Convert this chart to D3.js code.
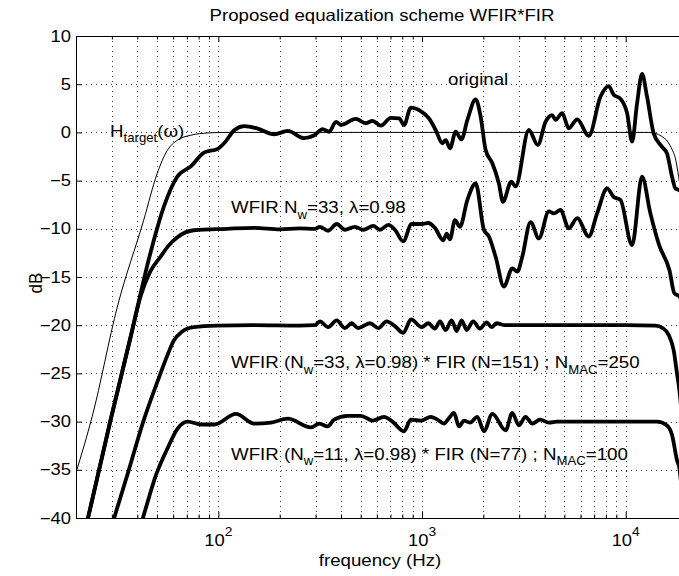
<!DOCTYPE html>
<html><head><meta charset="utf-8">
<script src="https://cdn.jsdelivr.net/npm/d3@7"></script>
<style>
body{margin:0;background:#fff}
text{font-family:"Liberation Sans",Arial,Helvetica,sans-serif;fill:#000}
</style>
</head><body>
<svg id="chart" width="679" height="576"></svg>
<script>
// ---------- data (frequency in Hz, level in dB) ----------
const yTicks = [-40,-35,-30,-25,-20,-15,-10,-5,0,5,10];
const xMajor = [100,1000,10000];
const xMajorLabels = ["2","3","4"];
const xMinor = [20,30,40,50,60,70,80,90,200,300,400,500,600,700,800,900,2000,3000,4000,5000,6000,7000,8000,9000,20000];

const targetCurve = [[20,-35.3],[24,-29.5],[32,-18],[43,-9.1],[50,-4.3],[56,-1.9],[63,-0.8],[73,-0.3],[90,-0.05],[110,0],[13000,0],[14000,-0.1],[15000,-0.4],[16000,-0.9],[17000,-1.9],[17500,-2.6],[18200,-4.6],[19000,-7.5],[20000,-11]];

const originalCurve = [[21.5,-42.5],[23.2,-39.5],[29.6,-29.8],[37.1,-21.2],[46.4,-12.5],[54,-7.7],[62.8,-4.6],[73.5,-3.5],[85,-2.1],[99.3,-1.7],[107,-1.1],[120,0.25],[134,0.66],[156,0.4],[188,-0.2],[219,0.15],[264,-0.6],[296,-0.3],[325,0.35],[350,0.07],[378,1.1],[400,0.77],[473,1.4],[530,0.95],[571,1.2],[628,0.7],[703,1.5],[772,1.45],[816,0.77],[881,2.56],[985,2.2],[1082,1.46],[1167,0.25],[1259,-1.13],[1307,-0.8],[1372,-1.65],[1463,0.07],[1561,-0.72],[1670,1.29],[1834,3.43],[1940,1.63],[2053,-1.83],[2214,-3.2],[2385,-5.3],[2495,-7.2],[2743,-5.1],[2880,-5.6],[3345,0.25],[3703,-1.3],[4041,1.1],[4358,1.8],[4523,1.3],[4877,2.0],[5255,0.43],[5780,1.36],[6587,-0.37],[7516,3.7],[8254,4.8],[8734,3.9],[9419,3.5],[10160,2.0],[10750,-0.96],[11370,3.0],[12030,6.06],[12730,3.7],[13720,-0.1],[15080,-1.5],[15960,-2.2],[16890,-4.6],[17530,-5.8],[18340,-6.0],[20000,-7.0]];

const wfir33Curve = [[21.5,-42.5],[23.2,-39.5],[29.6,-29.8],[37.1,-21.2],[41.5,-17],[46.4,-14.4],[52,-12.9],[56.7,-11.8],[62.7,-10.9],[75.8,-10.15],[110,-10],[150,-9.9],[200,-10.05],[250,-9.95],[298,-10.0],[315,-9.8],[346,-10.2],[381,-9.5],[418,-10.1],[468,-9.8],[515,-10.1],[576,-9.7],[621,-10.1],[683,-9.6],[736,-10.1],[809,-11.3],[889,-9.5],[996,-9.5],[1073,-9.4],[1157,-9.9],[1271,-11.2],[1321,-10.5],[1371,-11.1],[1451,-9.1],[1535,-9.8],[1670,-7.0],[1834,-5.3],[2013,-10.1],[2130,-10.8],[2298,-12.9],[2523,-16.0],[2775,-14.1],[2936,-14.45],[3106,-12.9],[3411,-9.3],[3746,-11.0],[4194,-8.2],[4437,-8.4],[4786,-8.05],[5255,-9.95],[5780,-8.9],[6587,-10.8],[7241,-8.4],[8108,-5.8],[8734,-6.7],[9419,-7.0],[10750,-11.7],[12030,-4.6],[13220,-8.4],[14600,-11.7],[16400,-14.3],[17350,-16.7],[18340,-17],[20000,-20]];

const fir151Curve = [[29,-41.8],[31.3,-39.5],[36,-35.3],[43.1,-29.8],[52,-25],[56.5,-23],[60.4,-21.6],[66,-20.7],[75.8,-20.2],[98.6,-20.05],[150,-20],[250,-20.05],[298,-20.0],[315,-19.6],[346,-20.2],[381,-19.5],[418,-20.3],[451,-19.8],[486,-20.3],[555,-19.8],[610,-20.3],[670,-19.6],[736,-20.1],[809,-20.8],[883,-19.4],[996,-20.2],[1073,-19.8],[1157,-20.35],[1225,-19.6],[1306,-20.5],[1398,-19.5],[1479,-20.6],[1565,-19.5],[1656,-20.5],[1784,-19.6],[1925,-20.35],[2076,-19.7],[2196,-20.2],[2324,-19.8],[2554,-20],[5000,-20],[10000,-20],[14000,-20.05],[15200,-20.3],[16250,-21.0],[17200,-22.6],[17860,-25.0],[18340,-26.7],[19000,-30],[20000,-36]];

const fir77Curve = [[40,-41.9],[42.6,-40],[49.5,-35.5],[56.5,-32.7],[63.2,-30.7],[70.8,-30],[82.3,-30.3],[95.6,-30.3],[122,-29.2],[150,-30.2],[181,-30.1],[219,-29.7],[285,-30.6],[313,-30.2],[344,-30.5],[370,-29.8],[431,-29.4],[501,-29.4],[571,-29.9],[651,-29.5],[716,-30],[816,-31],[881,-29.8],[990,-29.9],[1103,-29.5],[1190,-29.8],[1282,-30.2],[1350,-29.7],[1435,-29.1],[1519,-30.5],[1607,-29.9],[1720,-30.1],[1869,-29.5],[2013,-31.0],[2214,-29.2],[2573,-30.9],[2775,-29.1],[2989,-30.4],[3223,-29.5],[3476,-30.2],[3800,-29.8],[4200,-30.1],[4600,-30],[14250,-30],[15960,-30.4],[16890,-31.4],[17860,-34],[18340,-34.8],[19000,-38],[20000,-45]];

// ---------- layout ----------
const W = 679, H = 576;
const L = 76, R = 687, T = 36, B = 518;
const FS = 17, SUBFS = 12, SX = 1.1;       // annotation / title text
const TFS = 16, TSX = 1.15;                // tick labels

const svg = d3.select("#chart");
svg.append("rect").attr("width", W).attr("height", H).attr("fill", "#fff");

const x = d3.scaleLog().domain([20, 20000]).range([L, R]);
const y = d3.scaleLinear().domain([-40, 10]).range([B, T]);

svg.append("defs").append("clipPath").attr("id", "plotclip")
  .append("rect").attr("x", L).attr("y", T).attr("width", R - L).attr("height", B - T);

// grid
const grid = svg.append("g").attr("stroke", "#3a3a3a").attr("stroke-width", 1).attr("stroke-dasharray", "1,4");
grid.selectAll("line.v").data(xMinor.concat(xMajor)).join("line").attr("class","v")
  .attr("x1", d => Math.round(x(d)) + 0.5).attr("x2", d => Math.round(x(d)) + 0.5)
  .attr("y1", T).attr("y2", B);
grid.selectAll("line.h").data(yTicks).join("line").attr("class","h")
  .attr("x1", L).attr("x2", R)
  .attr("y1", d => Math.round(y(d)) + 0.5).attr("y2", d => Math.round(y(d)) + 0.5);

// axes (MATLAB style, inward ticks)
svg.append("g").attr("transform", `translate(${L},0)`)
  .call(d3.axisLeft(y).tickValues(yTicks).tickSize(-6).tickFormat(""));
svg.append("g").attr("transform", `translate(0,${B})`)
  .call(d3.axisBottom(x).tickValues(xMajor).tickSize(-6).tickFormat(""));
svg.append("g").attr("transform", `translate(0,${B})`)
  .call(d3.axisBottom(x).tickValues(xMinor).tickSize(-3.5).tickFormat(""));
svg.append("g").attr("transform", `translate(0,${T})`)
  .call(d3.axisTop(x).tickValues(xMajor).tickSize(-6).tickFormat(""));
svg.append("g").attr("transform", `translate(0,${T})`)
  .call(d3.axisTop(x).tickValues(xMinor).tickSize(-3.5).tickFormat(""));
svg.selectAll(".domain").attr("stroke", "#000").attr("stroke-width", 1);
svg.selectAll(".tick line").attr("stroke", "#000");

// rich text helper (main text, _sub and ^sup parts)
function rich(px, py, anchor, parts, opt = {}) {
  const fs = opt.fs || FS, sx = opt.sx || SX, sfs = opt.sfs || SUBFS;
  const tr = opt.rotate ? `translate(${px},${py}) rotate(-90) scale(1,${sx})` : `translate(${px},${py}) scale(${sx},1)`;
  const t = svg.append("text").attr("transform", tr).attr("text-anchor", anchor).style("font-size", fs + "px");
  let cur = 0;
  parts.forEach(p => {
    const s = typeof p === "string" ? p : p[0];
    const k = typeof p === "string" ? "n" : p[1];
    const off = k === "sub" ? 5.5 : (k === "sup" ? -10.5 : 0);
    t.append("tspan").attr("dy", off - cur).style("font-size", (k === "n" ? fs : sfs) + "px").text(s);
    cur = off;
  });
  return t;
}

// tick labels
yTicks.forEach(v => {
  rich(L - 5, y(v) + 5.6, "end", [String(v).replace("-", "\u2212")], {fs: TFS, sx: TSX});
});
xMajor.forEach((v, i) => {
  rich(x(v), 546, "middle", ["10", [xMajorLabels[i], "sup"]], {fs: TFS, sx: TSX, sfs: 12});
});

// curves
const line = d3.line().x(d => x(d[0])).y(d => y(d[1])).curve(d3.curveMonotoneX);
const plot = svg.append("g").attr("clip-path", "url(#plotclip)").attr("fill", "none").attr("stroke", "#000")
  .attr("stroke-linejoin", "round").attr("stroke-linecap", "round");
plot.append("path").attr("d", line(targetCurve)).attr("stroke-width", 1);
[fir77Curve, fir151Curve, wfir33Curve, originalCurve].forEach(c => {
  plot.append("path").attr("d", line(c)).attr("stroke-width", 3.8);
});

// titles and annotations
rich(382, 21, "middle", ["Proposed equalization scheme WFIR*FIR"], {fs: 16.5, sx: 1.13});
rich(380, 566, "middle", ["frequency (Hz)"]);
rich(42, 283, "middle", ["dB"], {rotate: true});
rich(110, 136.5, "start", ["H", ["target", "sub"], "(\u03c9)"]);
rich(448, 84.5, "start", ["original"]);
rich(231, 213, "start", ["WFIR N", ["w", "sub"], "=33, \u03bb=0.98"]);
rich(231, 368, "start", ["WFIR (N", ["w", "sub"], "=33, \u03bb=0.98) * FIR (N=151) ; N", ["MAC", "sub"], "=250"]);
rich(231, 459.5, "start", ["WFIR (N", ["w", "sub"], "=11, \u03bb=0.98) * FIR (N=77) ; N", ["MAC", "sub"], "=100"]);
</script>
</body></html>
